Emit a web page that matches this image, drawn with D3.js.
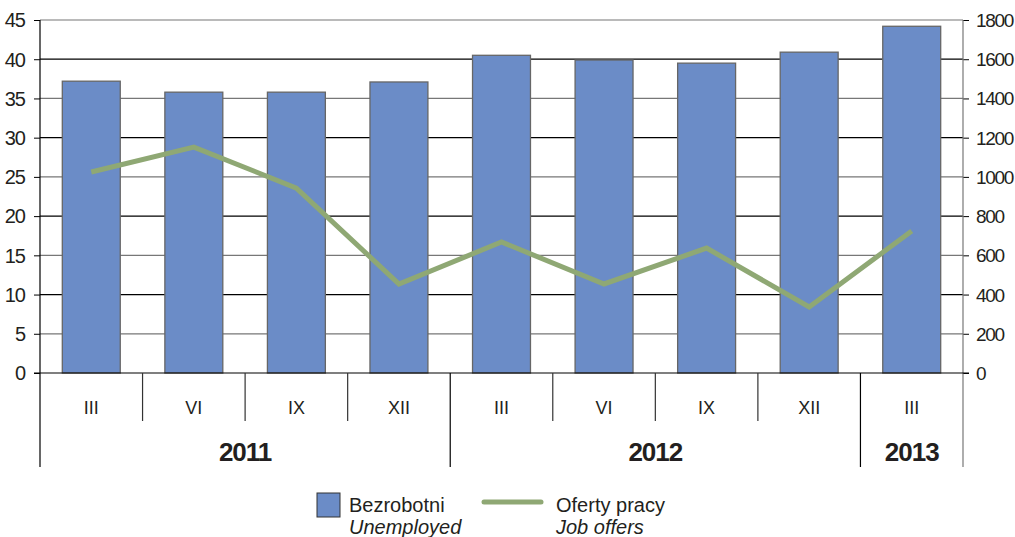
<!DOCTYPE html>
<html><head><meta charset="utf-8">
<script src="https://cdn.jsdelivr.net/npm/d3@7"></script>
<style>
body{margin:0;background:#fff;}
text{font-family:"Liberation Sans Narrow","Arial Narrow","Liberation Sans",Arial,sans-serif;fill:#231f20;}
</style></head>
<body>
<svg id="c" width="1015" height="537"></svg>
<script>
const categories = ["III","VI","IX","XII","III","VI","IX","XII","III"];
const years = [{label:"2011", start:0, end:4},{label:"2012", start:4, end:8},{label:"2013", start:8, end:9}];
const unemployed = [37.2, 35.8, 35.8, 37.1, 40.5, 39.9, 39.5, 40.9, 44.2];
const jobOffers = [1025, 1152, 943, 454, 668, 454, 637, 337, 724];
const leftTicks = [0,5,10,15,20,25,30,35,40,45];
const rightTicks = [0,200,400,600,800,1000,1200,1400,1600,1800];

const svg = d3.select("#c");
const L = 40, R = 963, T = 20, B = 373;
const idx = categories.map((d,i)=>i);
const x = d3.scaleBand().domain(idx).range([L,R]).paddingInner(0.435).paddingOuter(0.2175);
const xb = d3.scaleLinear().domain([0,categories.length]).range([L,R]);
const yL = d3.scaleLinear().domain([0,45]).range([B,T]);
const yR = d3.scaleLinear().domain([0,1800]).range([B,T]);

// gridlines
svg.append("g").selectAll("line").data(leftTicks.filter(d=>d>0)).join("line")
  .attr("x1",L).attr("x2",R).attr("y1",d=>yL(d)).attr("y2",d=>yL(d))
  .attr("stroke",d=>d%10===0?"#000":"#777").attr("stroke-width",1.2);

// bars
svg.append("g").selectAll("rect").data(unemployed).join("rect")
  .attr("x",(d,i)=>x(i)).attr("width",x.bandwidth())
  .attr("y",d=>yL(d)).attr("height",d=>B-yL(d))
  .attr("fill","#6b8cc7").attr("stroke","#666").attr("stroke-width",1.3);

// line
svg.append("path").datum(jobOffers)
  .attr("d",d3.line().x((d,i)=>x(i)+x.bandwidth()/2).y(d=>yR(d)))
  .attr("fill","none").attr("stroke","#8fa874").attr("stroke-width",5).attr("stroke-linejoin","miter");

// left axis
const gl = svg.append("g").attr("transform",`translate(${L},0)`)
  .call(d3.axisLeft(yL).tickValues(leftTicks).tickSize(6).tickPadding(9));
gl.select(".domain").remove();
gl.selectAll(".tick line").attr("stroke","#000");
gl.selectAll(".tick text").style("font-size","20px").style("letter-spacing","-1px").attr("dy","0.34em");
svg.append("line").attr("x1",L).attr("x2",L).attr("y1",T).attr("y2",467).attr("stroke","#000").attr("stroke-width",1.2);

// right axis
const gr = svg.append("g").attr("transform",`translate(${R},0)`)
  .call(d3.axisRight(yR).tickValues(rightTicks).tickFormat(d3.format("d")).tickSize(6).tickPadding(7));
gr.select(".domain").remove();
gr.selectAll(".tick line").attr("stroke","#000");
gr.selectAll(".tick text").style("font-size","19px").style("letter-spacing","-1.3px").attr("dy","0.34em");
svg.append("line").attr("x1",R).attr("x2",R).attr("y1",T).attr("y2",467).attr("stroke","#777").attr("stroke-width",1.2);

// baseline
svg.append("line").attr("x1",L-6).attr("x2",R+6).attr("y1",B).attr("y2",B).attr("stroke","#000").attr("stroke-width",1.2);

// category separators
const yearBounds = new Set(years.flatMap(y=>[y.start,y.end]));
svg.append("g").selectAll("line").data(d3.range(1,categories.length).filter(i=>!yearBounds.has(i))).join("line")
  .attr("x1",d=>xb(d)).attr("x2",d=>xb(d)).attr("y1",B).attr("y2",421)
  .attr("stroke","#333").attr("stroke-width",1.2);
svg.append("g").selectAll("line").data([...yearBounds].filter(d=>d>0&&d<categories.length)).join("line")
  .attr("x1",d=>xb(d)).attr("x2",d=>xb(d)).attr("y1",B).attr("y2",467)
  .attr("stroke","#000").attr("stroke-width",1.2);

// category labels
svg.append("g").selectAll("text").data(categories).join("text")
  .attr("x",(d,i)=>x(i)+x.bandwidth()/2).attr("y",414)
  .attr("text-anchor","middle").style("font-size","18px").text(d=>d);

// year labels
svg.append("g").selectAll("text").data(years).join("text")
  .attr("x",d=>(xb(d.start)+xb(d.end))/2).attr("y",461)
  .attr("text-anchor","middle").style("font-size","26px").style("font-weight","bold").style("letter-spacing","-1px").text(d=>d.label);

// legend
const lg = svg.append("g");
lg.append("rect").attr("x",317).attr("y",493).attr("width",23).attr("height",24)
  .attr("fill","#6b8cc7").attr("stroke","#333").attr("stroke-width",1);
lg.append("text").attr("x",349).attr("y",512).style("font-family","'Liberation Sans',Arial,sans-serif").style("font-size","20px").text("Bezrobotni");
lg.append("text").attr("x",349).attr("y",534).style("font-family","'Liberation Sans',Arial,sans-serif").style("font-size","20px").style("font-style","italic").text("Unemployed");
lg.append("line").attr("x1",484).attr("x2",541).attr("y1",502).attr("y2",502)
  .attr("stroke","#8fa874").attr("stroke-width",5).attr("stroke-linecap","round");
lg.append("text").attr("x",556).attr("y",512).style("font-family","'Liberation Sans',Arial,sans-serif").style("font-size","20px").text("Oferty pracy");
lg.append("text").attr("x",556).attr("y",534).style("font-family","'Liberation Sans',Arial,sans-serif").style("font-size","20px").style("font-style","italic").text("Job offers");
</script>
</body></html>
